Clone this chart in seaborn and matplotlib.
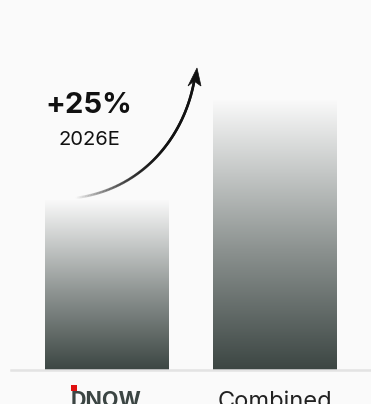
import numpy as np
import pandas as pd
import matplotlib
matplotlib.use("Agg")
import matplotlib.pyplot as plt
import seaborn as sns
from matplotlib.colors import LinearSegmentedColormap
from matplotlib.collections import LineCollection
from matplotlib.patches import Polygon, Rectangle

categories = ["DNOW", "Combined"]
values = [100, 159]
growth_label = "+25%"
growth_year = "2026E"

BG = "#fafafa"
DARK = "#3c4643"

sns.set_theme(style="white")
plt.rcParams['font.family'] = ['Inter', 'DejaVu Sans']

W, H = 371, 404
fig = plt.figure(figsize=(W / 100, H / 100), dpi=100, facecolor=BG)
ax = fig.add_axes([11 / W, 34 / H, 360 / W, 370 / H])
ax.set_facecolor(BG)

df = pd.DataFrame({"cat": categories, "val": values})
sns.barplot(data=df, x="cat", y="val", ax=ax, width=0.73, color=DARK)

ax.set_xlim(-95.5 / 168.5, 1 + 96 / 168.5)
ax.set_ylim(0, 370 / 170 * values[0])

cmap = LinearSegmentedColormap.from_list("g", [(0, DARK), (0.45, "#8d9391"), (1, BG)])
grad = np.linspace(0, 1, 256).reshape(-1, 1)
for p in ax.patches:
    x0, y0 = p.get_x(), p.get_y()
    w, h = p.get_width(), p.get_height()
    p.set_facecolor("none")
    p.set_edgecolor("none")
    im = ax.imshow(grad, extent=[x0, x0 + w, y0, y0 + h], origin="lower",
                   aspect="auto", cmap=cmap, zorder=2)
    im.set_clip_path(p)

for s in ["top", "right", "left"]:
    ax.spines[s].set_visible(False)
ax.spines["bottom"].set_color("#e3e3e3")
ax.spines["bottom"].set_linewidth(1.8)
ax.set_yticks([])
ax.set_xlabel("")
ax.set_ylabel("")
ax.tick_params(axis="x", length=0, pad=15)
ax.set_xticks(range(len(categories)))
ax.set_xticklabels(categories, fontsize=17, color="#222222")
tl = ax.get_xticklabels()
tl[0].set_color("#3b4543")
tl[0].set_fontweight("bold")
tl[0].set_fontsize(15.5)

def fp(x, y):
    return (x / W, 1 - y / H)

# red logo corner
fig.patches.append(Rectangle(fp(71, 391), 6 / W, 6 / H, transform=fig.transFigure,
                             facecolor="#e01010", edgecolor="none", zorder=10))

# growth text
fig.text(*fp(89, 113), growth_label, ha="center", va="baseline",
         fontsize=21, fontweight="bold", color="#111111")
fig.text(*fp(89, 145), growth_year, ha="center", va="baseline",
         fontsize=14.5, color="#111111")

# curved arrow
P0, P1, P2, P3 = np.array([75, 198]), np.array([140, 190]), np.array([183, 140]), np.array([194, 82])
t = np.linspace(0, 1, 120)[:, None]
pts = (1 - t) ** 3 * P0 + 3 * (1 - t) ** 2 * t * P1 + 3 * (1 - t) * t ** 2 * P2 + t ** 3 * P3
fpts = np.array([fp(x, y) for x, y in pts])
segs = np.stack([fpts[:-1], fpts[1:]], axis=1)
alphas = np.clip(np.linspace(0, 1.6, len(segs)), 0, 1)
cols = [(0.07, 0.07, 0.07, a) for a in alphas]
lc = LineCollection(segs, colors=cols, linewidths=1.9, transform=fig.transFigure,
                    capstyle="round")
fig.add_artist(lc)
head = Polygon([fp(197, 68), fp(188, 86), fp(194, 81), fp(201, 86)], closed=True,
               transform=fig.transFigure, facecolor="#111111", edgecolor="#111111", lw=0.5)
fig.add_artist(head)

fig.savefig("out.png", dpi=100, facecolor=BG)
